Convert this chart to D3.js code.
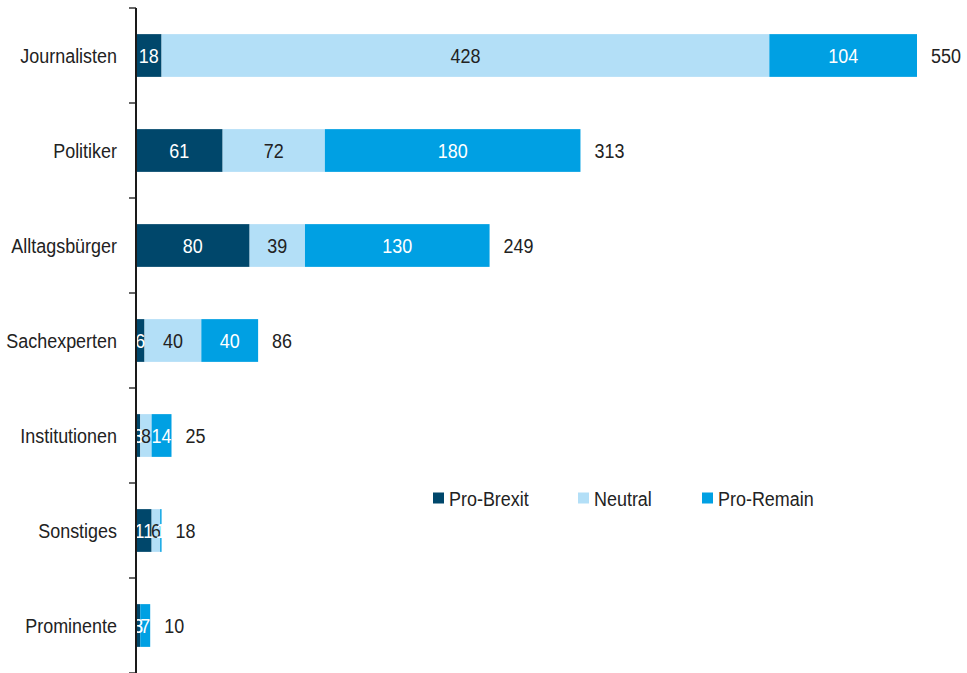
<!DOCTYPE html>
<html>
<head>
<meta charset="utf-8">
<script src="https://cdn.jsdelivr.net/npm/d3@7"></script>
<style>
  html, body { margin: 0; padding: 0; background: #fff; }
  svg { display: block; }
  text { font-family: "Liberation Sans", Arial, Helvetica, sans-serif; font-size: 21px; }
</style>
</head>
<body>
<svg id="chart" width="967" height="673"></svg>
<script>
// Akteursgruppen und Haltung zum Brexit
const categories = ["Journalisten", "Politiker", "Alltagsbürger", "Sachexperten", "Institutionen", "Sonstiges", "Prominente"];
const proBrexit  = [18, 61, 80, 6, 3, 11, 3];
const neutral    = [428, 72, 39, 40, 8, 6, 0];
const proRemain  = [104, 180, 130, 40, 14, 1, 7];
const seriesNames = ["Pro-Brexit", "Neutral", "Pro-Remain"];
const seriesColors = ["#00476b", "#b3dff7", "#00a0e3"];
const labelColors = ["#ffffff", "#222222", "#ffffff"];

const rows = categories.map((c, i) => ({
  cat: c,
  "Pro-Brexit": proBrexit[i],
  "Neutral": neutral[i],
  "Pro-Remain": proRemain[i],
  total: proBrexit[i] + neutral[i] + proRemain[i]
}));

// condensed look: squeeze text horizontally around its anchor point
const SQ = 0.855;
const place = (px, py) => `translate(${px},${py}) scale(${SQ},1)`;

const svg = d3.select("#chart");
const x0 = 136;

const x = d3.scaleLinear().domain([0, 550]).range([x0, 917]);
const band = d3.scaleBand().domain(categories).range([8, 673]);
const y = d3.scaleBand().domain(categories).range([8, 673]).paddingInner(0.55).paddingOuter(0.275);
const mid = c => band(c) + band.bandwidth() / 2;

const stack = d3.stack().keys(seriesNames)(rows);

svg.append("g").selectAll("g")
  .data(stack).join("g")
  .attr("fill", (d, i) => seriesColors[i])
  .selectAll("rect")
  .data(d => d)
  .join("rect")
  .attr("x", d => x(d[0]))
  .attr("y", d => y(d.data.cat))
  .attr("width", d => x(d[1]) - x(d[0]))
  .attr("height", y.bandwidth());

// segment values
stack.forEach((layer, si) => {
  svg.append("g").selectAll("text")
    .data(layer.filter(d => d[1] - d[0] > 0))
    .join("text")
    .attr("transform", d => place((x(d[0]) + x(d[1])) / 2, mid(d.data.cat)))
    .attr("dy", "0.36em")
    .attr("text-anchor", "middle")
    .attr("fill", labelColors[si])
    .text(d => d[1] - d[0]);
});

// totals
svg.append("g").selectAll("text")
  .data(rows)
  .join("text")
  .attr("transform", d => place(x(d.total) + 14, mid(d.cat)))
  .attr("dy", "0.36em")
  .attr("fill", "#222")
  .text(d => d.total);

// category labels
svg.append("g").selectAll("text")
  .data(categories)
  .join("text")
  .attr("transform", c => place(x0 - 19, mid(c)))
  .attr("dy", "0.36em")
  .attr("text-anchor", "end")
  .attr("fill", "#222")
  .text(c => c);

// boundary ticks between categories
const bounds = categories.map(c => band(c)).concat([673]);
svg.append("g").selectAll("line")
  .data(bounds).join("line")
  .attr("x1", x0 - 7).attr("x2", x0)
  .attr("y1", d => d).attr("y2", d => d)
  .attr("stroke", "#333").attr("stroke-width", 1.5);

svg.append("line")
  .attr("x1", x0).attr("x2", x0)
  .attr("y1", 8).attr("y2", 673)
  .attr("stroke", "#1a1a1a").attr("stroke-width", 2);

// legend
const legendX = [433, 578, 702];
const lg = svg.append("g").selectAll("g")
  .data(seriesNames).join("g")
  .attr("transform", (d, i) => `translate(${legendX[i]},498)`);
lg.append("rect").attr("x", 0).attr("y", -5.5).attr("width", 11).attr("height", 11)
  .attr("fill", (d, i) => seriesColors[i]);
lg.append("text")
  .attr("transform", `translate(16,0) scale(${SQ},1)`)
  .attr("dy", "0.36em")
  .attr("fill", "#222").text(d => d);
</script>
</body>
</html>
